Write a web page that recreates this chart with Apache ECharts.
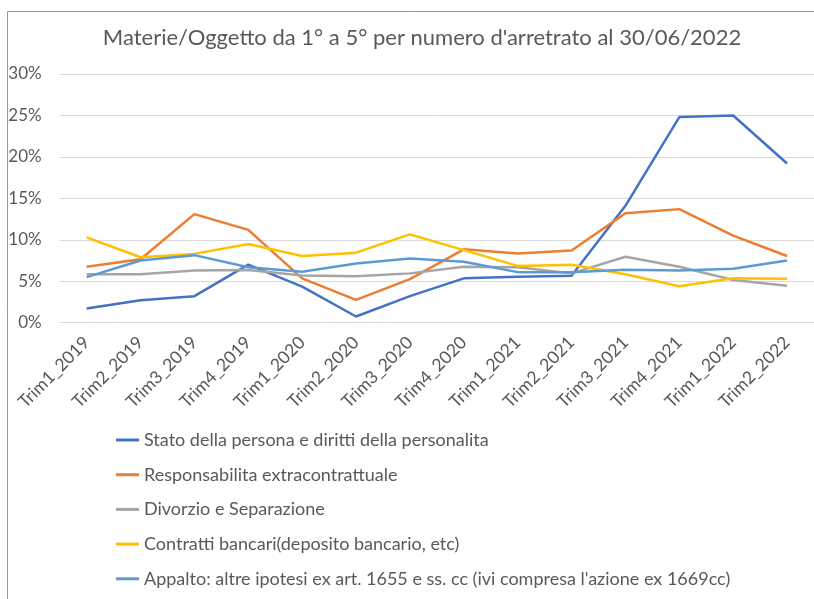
<!DOCTYPE html>
<html><head><meta charset="utf-8">
<script src="https://cdn.jsdelivr.net/npm/echarts@6/dist/echarts.min.js"></script>
<style>html,body{margin:0;padding:0;background:#fff}#c{width:814px;height:599px}</style>
</head><body><div id="c"></div>
<script>
var categories = ['Trim1_2019','Trim2_2019','Trim3_2019','Trim4_2019','Trim1_2020','Trim2_2020','Trim3_2020','Trim4_2020','Trim1_2021','Trim2_2021','Trim3_2021','Trim4_2021','Trim1_2022','Trim2_2022'];
var seriesNames = ['Stato della persona e diritti della personalita','Responsabilita extracontrattuale','Divorzio e Separazione','Contratti bancari(deposito bancario, etc)',"Appalto: altre ipotesi ex art. 1655 e ss. cc (ivi compresa l'azione ex 1669cc)"];
var stato = [1.7, 2.7, 3.2, 7.0, 4.35, 0.75, 3.2, 5.35, 5.55, 5.65, 14.1, 24.8, 25.0, 19.2];
var responsabilita = [6.75, 7.65, 13.1, 11.2, 5.35, 2.75, 5.25, 8.85, 8.35, 8.7, 13.2, 13.7, 10.5, 8.05];
var divorzio = [5.85, 5.85, 6.3, 6.35, 5.7, 5.6, 5.95, 6.75, 6.7, 5.95, 7.95, 6.75, 5.15, 4.45];
var contratti = [10.3, 7.9, 8.3, 9.5, 8.05, 8.45, 10.65, 8.75, 6.85, 7.0, 5.85, 4.4, 5.35, 5.3];
var appalto = [5.5, 7.5, 8.15, 6.7, 6.15, 7.15, 7.75, 7.35, 6.1, 6.1, 6.4, 6.3, 6.5, 7.5];
var yTicks = [0, 5, 10, 15, 20, 25, 30];

var colors = ['#4472C4','#ED7D31','#A5A5A5','#FFC000','#5B9BD5'];
var values = [stato, responsabilita, divorzio, contratti, appalto];
var font = 'Lato, "Open Sans", sans-serif';
var chart = echarts.init(document.getElementById('c'));
chart.setOption({
  animation: false,
  color: colors,
  title: {
    text: 'Materie/Oggetto da 1° a 5° per numero d\'arretrato al 30/06/2022',
    left: 417, top: 22, textAlign: 'center',
    textStyle: {fontFamily: font, fontSize: 22, fontWeight: 'normal', color: '#595959'}
  },
  graphic: [{type: 'rect', shape: {x: 7.5, y: 11.5, width: 900, height: 700}, style: {fill: 'none', stroke: '#999', lineWidth: 1}, silent: true}],
  legend: {
    orient: 'vertical', left: 111, top: 425,
    icon: 'rect', itemWidth: 23, itemHeight: 3, itemGap: 14.7,
    textStyle: {fontFamily: font, fontSize: 18, color: '#595959', lineHeight: 20},
    data: seriesNames
  },
  grid: {left: 59.7, width: 756, top: 74, height: 248.7, containLabel: false},
  xAxis: {
    type: 'category', data: categories, boundaryGap: true,
    axisLine: {lineStyle: {color: '#d9d9d9'}}, axisTick: {show: false},
    axisLabel: {rotate: 45, interval: 0, margin: 17, fontFamily: font, fontSize: 17.5, color: '#595959'}
  },
  yAxis: {
    type: 'value', min: yTicks[0], max: yTicks[yTicks.length-1], interval: 5,
    axisLine: {show: false}, axisTick: {show: false},
    splitLine: {lineStyle: {color: '#d9d9d9', width: 1}},
    axisLabel: {formatter: '{value}%', margin: 18, fontFamily: font, fontSize: 17, color: '#595959'}
  },
  series: values.map(function (v, i) {
    return {name: seriesNames[i], type: 'line', data: v, showSymbol: false, symbol: 'none',
      lineStyle: {width: 2.5, color: colors[i]}, itemStyle: {color: colors[i]}};
  })
});
</script></body></html>
